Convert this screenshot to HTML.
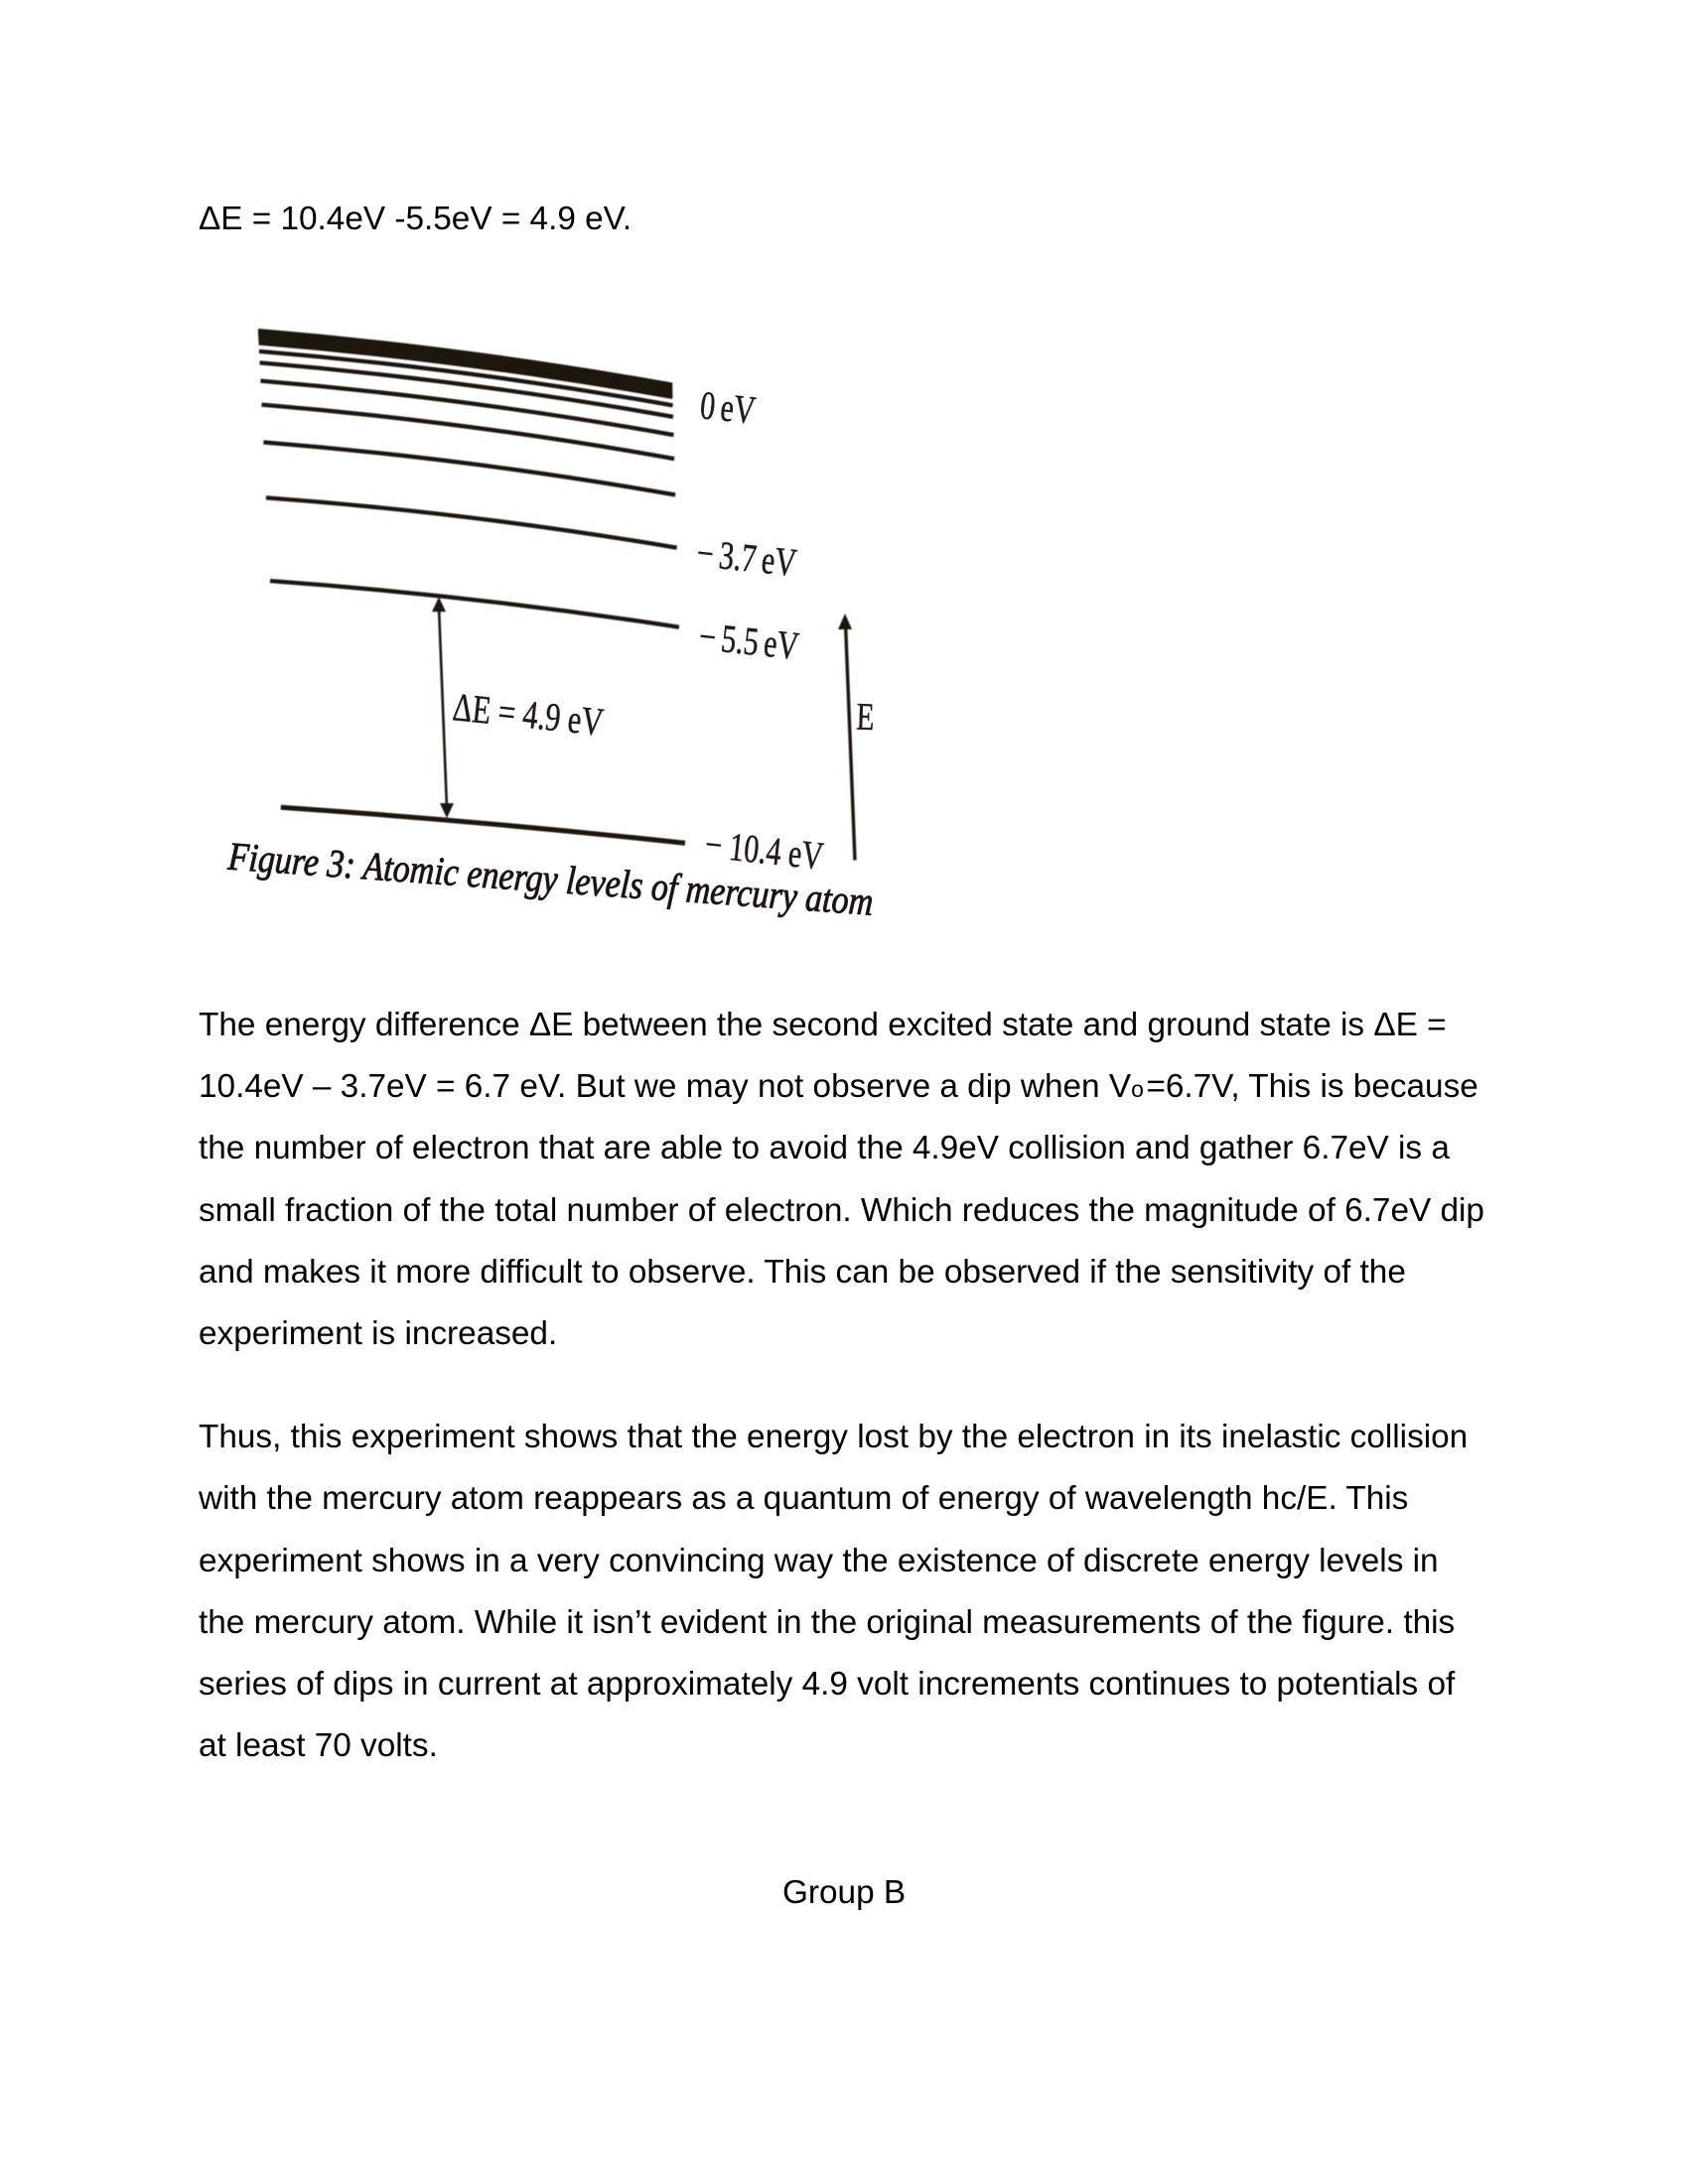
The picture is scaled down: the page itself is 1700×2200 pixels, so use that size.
<!DOCTYPE html>
<html lang="en">
<head>
<meta charset="utf-8">
<title>Atomic energy levels of mercury</title>
<style>
html,body{margin:0;padding:0;background:#fff;}
#page{position:relative;width:1700px;height:2200px;background:#fff;overflow:hidden;color:#000;font-family:"Liberation Sans",sans-serif;font-size:33.34px;}
.ln{position:absolute;left:200px;white-space:nowrap;line-height:40px;height:40px;}
.sub{font-size:23px;letter-spacing:2.5px;}
#fig{position:absolute;left:0;top:0;}
</style>
</head>
<body>
<div id="page">
  <div class="ln" style="top:201.4px">ΔE = 10.4eV -5.5eV = 4.9 eV.</div>

  <svg id="fig" width="1700" height="1000" viewBox="0 0 1700 1000">
    <defs><filter id="soft" x="-5%" y="-5%" width="110%" height="110%"><feGaussianBlur stdDeviation="0.5"/></filter></defs>
    <g id="diagram" filter="url(#soft)"></g>
    <text x="0" y="0" transform="translate(455 725) rotate(6)" font-family="'Liberation Serif',serif" font-size="40" fill="#241a18" stroke="#241a18" stroke-width="0.5" textLength="152" lengthAdjust="spacingAndGlyphs">ΔE = 4.9 eV</text>
    <text x="0" y="0" transform="translate(862 734.5) rotate(2) scale(.76 1)" font-family="'Liberation Serif',serif" font-size="39" fill="#241a18" stroke="#241a18" stroke-width="0.4">E</text>
    <text x="0" y="0" transform="translate(229 875.5) rotate(4.07)" font-family="'Liberation Serif',serif" font-style="italic" font-size="40" fill="#1c1412" stroke="#1c1412" stroke-width="0.9" textLength="651" lengthAdjust="spacingAndGlyphs">Figure 3: Atomic energy levels of mercury atom</text>
  </svg>

  <div class="ln" style="top:1013.4px">The energy difference ΔE between the second excited state and ground state is ΔE =</div>
  <div class="ln" style="top:1075.4px">10.4eV – 3.7eV = 6.7 eV. But we may not observe a dip when V<span class="sub">o</span>=6.7V, This is because</div>
  <div class="ln" style="top:1137.4px">the number of electron that are able to avoid the 4.9eV collision and gather 6.7eV is a</div>
  <div class="ln" style="top:1200.4px">small fraction of the total number of electron. Which reduces the magnitude of 6.7eV dip</div>
  <div class="ln" style="top:1262.4px">and makes it more difficult to observe. This can be observed if the sensitivity of the</div>
  <div class="ln" style="top:1324.4px">experiment is increased.</div>

  <div class="ln" style="top:1428.4px">Thus, this experiment shows that the energy lost by the electron in its inelastic collision</div>
  <div class="ln" style="top:1490.4px">with the mercury atom reappears as a quantum of energy of wavelength hc/E. This</div>
  <div class="ln" style="top:1553.4px">experiment shows in a very convincing way the existence of discrete energy levels in</div>
  <div class="ln" style="top:1615.4px">the mercury atom. While it isn’t evident in the original measurements of the figure. this</div>
  <div class="ln" style="top:1677.4px">series of dips in current at approximately 4.9 volt increments continues to potentials of</div>
  <div class="ln" style="top:1739.4px">at least 70 volts.</div>

  <div class="ln" style="top:1887.4px;left:788px">Group B</div>
</div>

<script>
// Energy levels in eV (unlabelled ones estimated)
const bandLevels = [0, -0.05, -0.1, -0.15, -0.2];
const levelEnergies = [-0.28, -0.47, -0.73, -1.14, -1.68, -2.5, -3.7, -5.5, -10.4];
const labelValues = [0, -3.7, -5.5, -10.4];
const labelTexts = ['0 eV', '− 3.7 eV', '− 5.5 eV', '− 10.4 eV'];
const transitionFrom = -5.5;
const transitionTo = -10.4;

const NS = 'http://www.w3.org/2000/svg';
const root = document.getElementById('diagram');
const svgRoot = document.getElementById('fig');
const INK = '#1f1310';

// Axis functions: energy -> position on the tilted page
function yRight(E) { return 387.5 - 44.4 * E; }
function drop(E) { return Math.min(54.5, 53 - (yRight(E) - 498.7) * 0.0484); }
function yLeft(E) { return yRight(E) - drop(E); }
function xLeft(E) { return 260 + (yLeft(E) - 333) * 0.0475; }
function xRight(E) { return 677 + (yRight(E) - 387) * 0.028; }
function bow(E) { return 5 - Math.max(0, -E - 3.7) * 0.45; }
function levelPath(E) {
  const x0 = xLeft(E), y0 = yLeft(E), x1 = xRight(E), y1 = yRight(E);
  const cx = (x0 + x1) / 2, cy = (y0 + y1) / 2 - 2 * bow(E);
  return 'M' + x0 + ' ' + y0 + ' Q' + cx + ' ' + cy + ' ' + x1 + ' ' + y1;
}
function levelYAt(E, x) {
  const t = (x - xLeft(E)) / (xRight(E) - xLeft(E));
  return yLeft(E) + t * (yRight(E) - yLeft(E)) - 4 * t * (1 - t) * bow(E);
}
function labelOffsetY(E) { return E === 0 ? 33.5 : (E < -8 ? 14 : (E < -5 ? 22 : 18)); }
function labelOffsetX(E) { return E === 0 ? 27 : 19; }

bandLevels.forEach(function (E) {
  const p = document.createElementNS(NS, 'path');
  
  
  p.setAttribute('d', levelPath(E));
  p.setAttribute('fill', 'none');
  p.setAttribute('stroke', INK);
  p.setAttribute('stroke-width', '4');
  root.appendChild(p);
});

levelEnergies.forEach(function (E) {
  const p = document.createElementNS(NS, 'path');
  
  
  p.setAttribute('d', levelPath(E));
  p.setAttribute('fill', 'none');
  p.setAttribute('stroke', INK);
  p.setAttribute('stroke-width', E < -8 ? '5' : '4.3');
  root.appendChild(p);
});

function addLine(name, x1, y1, x2, y2, w) {
  const l = document.createElementNS(NS, 'line');
  
  
  l.setAttribute('x1', x1); l.setAttribute('y1', y1);
  l.setAttribute('x2', x2); l.setAttribute('y2', y2);
  l.setAttribute('stroke', INK);
  l.setAttribute('stroke-width', w);
  root.appendChild(l);
}
function addHead(name, x, y, dir, w, h) {
  const a = document.createElementNS(NS, 'polygon');
  
  
  a.setAttribute('points', x + ',' + y + ' ' + (x - w / 2) + ',' + (y + dir * h) + ' ' + (x + w / 2) + ',' + (y + dir * h));
  a.setAttribute('fill', INK);
  root.appendChild(a);
}

// Transition arrow between the two levels
const arrowTopX = 442, arrowBottomX = 450;
const arrowTopY = levelYAt(transitionFrom, arrowTopX) + 1;
const arrowBottomY = levelYAt(transitionTo, arrowBottomX) - 2;
addLine('delta-e-arrow-shaft', arrowTopX, arrowTopY + 10, arrowBottomX, arrowBottomY - 10, 2.6);
addHead('delta-e-arrow-head-top', arrowTopX, arrowTopY, 1, 14, 15);
addHead('delta-e-arrow-head-bottom', arrowBottomX, arrowBottomY, -1, 14, 15);

// Energy direction arrow
addLine('energy-axis-arrow-shaft', 851.5, 628, 861, 866.5, 3.4);
addHead('energy-axis-arrow-head', 851, 618, 1, 14, 16);

labelValues.forEach(function (E, i) {
  const t = document.createElementNS(NS, 'text');
  
  
  const x = xRight(E) + labelOffsetX(E), y = yRight(E) + labelOffsetY(E);
  t.setAttribute('transform', 'translate(' + x + ' ' + y + ') rotate(6) scale(.75 1)');
  t.setAttribute('font-family', "'Liberation Serif',serif");
  t.setAttribute('font-size', '40');
  t.setAttribute('word-spacing', E < -8 ? '0' : '-2.5');
  t.setAttribute('fill', '#241a18');
  t.setAttribute('stroke', '#241a18');
  t.setAttribute('stroke-width', '0.5');
  t.textContent = labelTexts[i];
  svgRoot.appendChild(t);
});
</script>
</body>
</html>
